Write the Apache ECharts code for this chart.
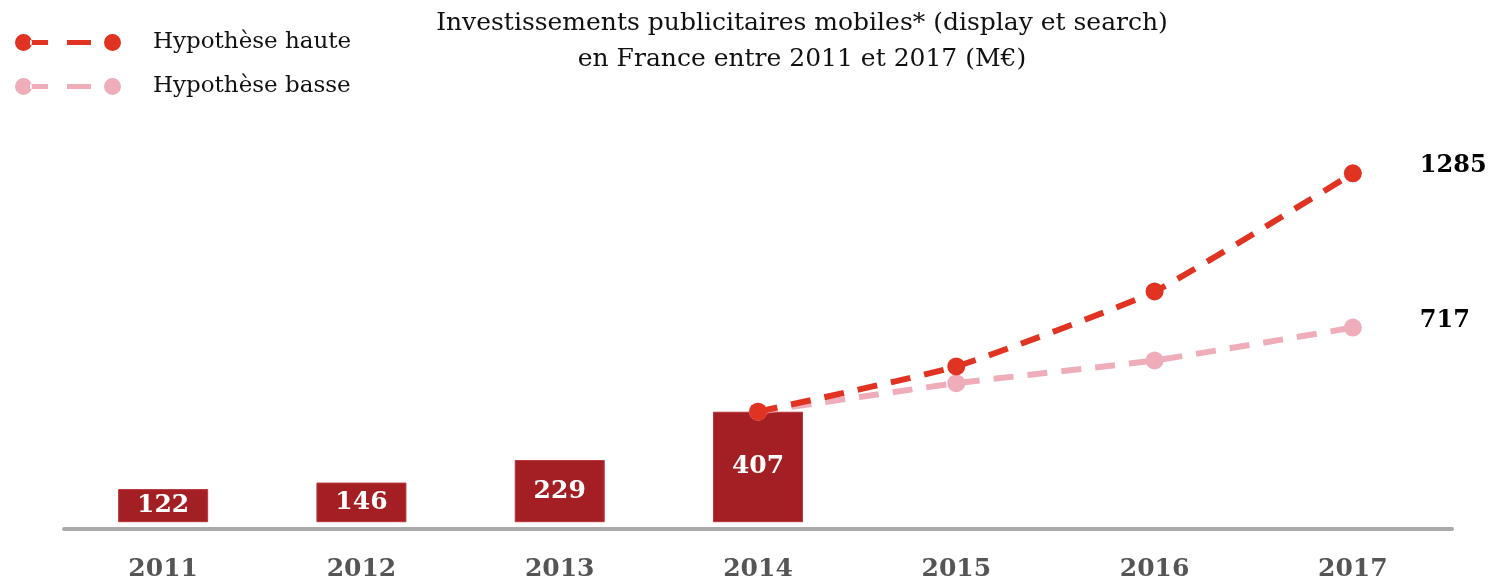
<!DOCTYPE html>
<html>
<head>
<meta charset="utf-8">
<script src="https://cdn.jsdelivr.net/npm/echarts@6/dist/echarts.min.js"></script>
<style>
  html, body { margin: 0; padding: 0; background: #fff; }
  #chart { width: 1489px; height: 584px; }
</style>
</head>
<body>
<div id="chart"></div>
<script>
const years = ['2011', '2012', '2013', '2014', '2015', '2016', '2017']
const actual = [122, 146, 229, 407, null, null, null]
const highCase = [null, null, null, 407, 574, 850, 1285]
const lowCase = [null, null, null, 407, 512, 596, 717]

const serif = 'DejaVu Serif'
// circle - dash - dash - circle, like the original legend key
const legendIcon = 'path://M0,8.5a8.5,8.5 0 1,0 17,0a8.5,8.5 0 1,0 -17,0Z' +
  'M15,6h18v5h-18Z M52,6h24v5h-24Z' +
  'M89,8.5a8.5,8.5 0 1,0 17,0a8.5,8.5 0 1,0 -17,0Z'

const lastLabel = (offsetY) => ({
  show: true,
  position: 'right',
  distance: 58,
  offset: [0, offsetY],
  formatter: (p) => p.dataIndex === years.length - 1 ? p.value : '',
  color: '#000',
  fontFamily: serif,
  fontWeight: 'bold',
  fontSize: 24
})

let myChart = echarts.init(document.getElementById('chart'))
myChart.setOption({
  animation: false,
  title: {
    text: 'Investissements publicitaires mobiles* (display et search)\nen France entre 2011 et 2017 (M€)',
    left: 797,
    textAlign: 'center',
    top: 0,
    textStyle: {
      fontFamily: serif,
      fontWeight: 'normal',
      fontSize: 25,
      lineHeight: 36,
      color: '#111'
    }
  },
  legend: {
    orient: 'vertical',
    left: 10,
    top: 26,
    itemWidth: 106,
    itemHeight: 17,
    itemGap: 21,
    data: [
      { name: 'Hypothèse haute', icon: legendIcon },
      { name: 'Hypothèse basse', icon: legendIcon }
    ],
    textStyle: {
      fontFamily: serif,
      fontSize: 23,
      color: '#111',
      padding: [0, 0, 0, 27]
    }
  },
  grid: {
    left: 64,
    right: 37,
    top: 115,
    bottom: 55
  },
  xAxis: {
    type: 'category',
    data: years,
    axisTick: { show: false },
    axisLine: {
      onZero: false,
      lineStyle: { color: '#aaaaaa', width: 4 }
    },
    axisLabel: {
      margin: 28,
      color: '#555',
      fontFamily: serif,
      fontWeight: 'bold',
      fontSize: 25
    }
  },
  yAxis: {
    type: 'value',
    min: -25,
    max: 1500,
    show: false,
    splitLine: { show: false }
  },
  series: [
    {
      name: 'Investissements',
      type: 'bar',
      barWidth: 90,
      data: actual,
      itemStyle: {
        color: '#a31f23',
        borderColor: '#b8383b',
        borderWidth: 1
      },
      label: {
        show: true,
        position: 'inside',
        color: '#fff',
        fontFamily: serif,
        fontWeight: 'bold',
        fontSize: 25
      },
      z: 1
    },
    {
      name: 'Hypothèse basse',
      type: 'line',
      data: lowCase,
      smooth: 0.15,
      symbol: 'circle',
      symbolSize: 18,
      itemStyle: { color: '#efadb9' },
      lineStyle: { color: '#efadb9', width: 6, type: [20, 14] },
      label: lastLabel(-7),
      z: 2
    },
    {
      name: 'Hypothèse haute',
      type: 'line',
      data: highCase,
      smooth: 0.15,
      symbol: 'circle',
      symbolSize: 18,
      itemStyle: { color: '#e03322' },
      lineStyle: { color: '#e03322', width: 6, type: [20, 14] },
      label: lastLabel(-8),
      z: 3
    }
  ]
})
</script>
</body>
</html>
